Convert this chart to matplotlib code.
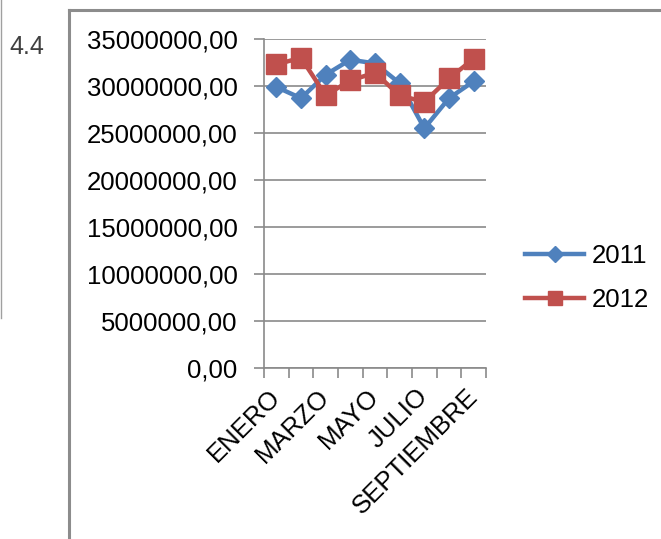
import matplotlib
matplotlib.use("Agg")
import matplotlib.pyplot as plt
from matplotlib.lines import Line2D

plt.rcParams['font.family'] = ['Liberation Sans', 'DejaVu Sans']

months = ["ENERO", "FEBRERO", "MARZO", "ABRIL", "MAYO", "JUNIO",
          "JULIO", "AGOSTO", "SEPTIEMBRE"]
values_2011 = [29.9e6, 28.7e6, 31.2e6, 32.8e6, 32.4e6, 30.3e6, 25.5e6, 28.7e6, 30.5e6]
values_2012 = [32.3e6, 33.0e6, 29.0e6, 30.6e6, 31.4e6, 29.0e6, 28.3e6, 30.8e6, 32.9e6]
y_ticks = [0, 5e6, 10e6, 15e6, 20e6, 25e6, 30e6, 35e6]

W, H = 661, 539
fig = plt.figure(figsize=(W / 100, H / 100), dpi=100)

# surrounding frame (document table cell look)
grey = "#8c8c8c"
fig.add_artist(Line2D([69 / W, 69 / W], [0, 1 - 10 / H], color=grey, lw=2.2,
                      transform=fig.transFigure))
fig.add_artist(Line2D([69 / W, 1], [1 - 10 / H, 1 - 10 / H], color=grey, lw=2.2,
                      transform=fig.transFigure))
fig.add_artist(Line2D([0.5 / W, 0.5 / W], [1 - 318 / H, 1], color="#a0a0a0", lw=1,
                      transform=fig.transFigure))
fig.text(27 / W, 1 - 47 / H, "4.4", ha="center", va="center", fontsize=18,
         color="#404040")

ax = fig.add_axes([264 / W, 1 - 368 / H, (486 - 264) / W, (368 - 39) / H])
x = list(range(1, len(months) + 1))
ax.plot(x, values_2011, color="#4F81BD", lw=3.2, marker="D", ms=10.5,
        label="2011", zorder=3)
ax.plot(x, values_2012, color="#C0504D", lw=3.2, marker="s", ms=14,
        label="2012", zorder=4)

ax.set_xlim(0.5, len(months) + 0.5)
ax.set_ylim(0, 35e6)
ax.set_yticks(y_ticks)
ax.set_yticklabels([f"{int(v)},00" for v in y_ticks])
ax.grid(axis="y", color="#8a8a8a", lw=1.2)
ax.set_axisbelow(True)

ax.set_xticks(x[::2])
ax.set_xticklabels(months[::2], rotation=45, ha="right", va="center",
                   rotation_mode="anchor")
ax.set_xticks([i + 0.5 for i in range(0, len(months) + 1)], minor=True)
ax.tick_params(axis="x", which="major", length=0, pad=18, labelsize=18.5)
ax.tick_params(axis="x", which="minor", length=7, color="#8a8a8a", width=1.2)
ax.tick_params(axis="y", length=7, color="#8a8a8a", width=1.2, pad=12,
               labelsize=18.5)

for side in ["top", "right"]:
    ax.spines[side].set_visible(False)
for side in ["left", "bottom"]:
    ax.spines[side].set_color("#8a8a8a")
    ax.spines[side].set_linewidth(1.2)

fig.legend(loc="center left", bbox_to_anchor=(525 / W, 1 - 278 / H),
           frameon=False, fontsize=18.5, handlelength=2.3, handletextpad=0.3,
           labelspacing=0.75, borderpad=0, borderaxespad=0, markerscale=0.75)

fig.savefig("out.png", dpi=100)
